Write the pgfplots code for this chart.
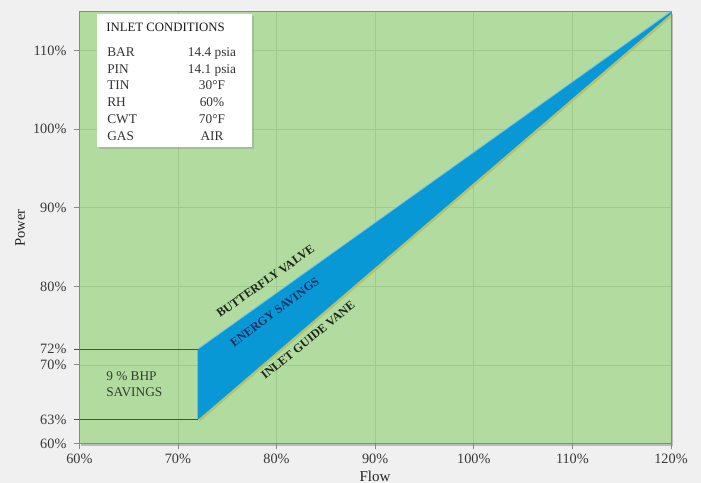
\documentclass[border=0pt]{standalone}
\usepackage{fontspec}
\setmainfont{Liberation Serif}
\usepackage{pgfplots}
\pgfplotsset{compat=1.18}
\usetikzlibrary{shadows}

\definecolor{pageGray}{RGB}{240,240,240}
\definecolor{plotGreen}{RGB}{178,219,159}
\definecolor{gridGreen}{RGB}{158,202,140}
\definecolor{bandBlue}{RGB}{8,152,214}
\definecolor{bandEdge}{RGB}{110,200,235}
\definecolor{bandShadow}{RGB}{180,192,104}
\definecolor{axisGray}{RGB}{135,135,135}
\definecolor{tickText}{RGB}{55,55,55}
\definecolor{noteDark}{RGB}{28,38,28}
\definecolor{noteNavy}{RGB}{20,48,98}
\definecolor{bhpText}{RGB}{50,62,50}

\begin{document}
\begin{tikzpicture}
% fond gris de la page
\fill[pageGray] (-59.5pt,-29.6pt) rectangle (466.3pt,332.6pt);

\begin{axis}[
    at={(0,0)}, anchor=south west,
    scale only axis,
    width=443.8pt, height=324pt,
    xmin=60, xmax=120, ymin=60, ymax=115,
    xtick={60,70,80,90,100,110,120},
    xticklabels={60\%,70\%,80\%,90\%,100\%,110\%,120\%},
    ytick={60,70,80,90,100,110},
    yticklabels={60\%,70\%,80\%,90\%,100\%,110\%},
    extra y ticks={63,72},
    extra y tick labels={63\%,72\%},
    extra y tick style={grid=none, major tick style={black!70, line width=0.7pt}},
    xtick pos=bottom, ytick pos=left,
    tick align=outside,
    major tick length=4pt,
    xmajorgrids, ymajorgrids,
    grid style={gridGreen, line width=0.5pt},
    axis line style={axisGray, line width=0.6pt},
    tick style={axisGray, line width=0.6pt},
    axis background/.style={fill=plotGreen,
        drop shadow={shadow xshift=1.6pt, shadow yshift=-1.6pt, fill=black, opacity=0.22}},
    /pgf/number format/assume math mode=true,
    tick label style={font=\fontsize{10.7}{12}\selectfont, text=tickText},
    yticklabel style={inner sep=0pt, xshift=-5.5pt},
    xticklabel style={inner sep=0pt, yshift=-4pt},
    xlabel={Flow},
    ylabel={Power},
    xlabel style={at={(axis description cs:0.4998,-0.087)}, anchor=base,
        font=\fontsize{11.3}{13}\selectfont, text=black!85},
    ylabel style={at={(axis description cs:-0.1002,0.4988)}, anchor=center,
        font=\fontsize{11}{13}\selectfont, text=black!85},
]

% bande bleue : économies d'énergie entre vanne papillon et aubes directrices
\addplot[fill=bandBlue, draw=none,
    drop shadow={shadow xshift=1.2pt, shadow yshift=-1.6pt, fill=bandShadow, opacity=0.9}]
    coordinates {(72,63) (72,72) (120,115) (120,114.7)} -- cycle;
\addplot[bandEdge, line width=0.6pt] coordinates {(72,72) (120,115)};

% niveaux 72 % et 63 % à 72 % de débit
\addplot[black!70, line width=0.7pt] coordinates {(60,72) (72,72)};
\addplot[black!70, line width=0.7pt] coordinates {(60,63) (72,63)};
\end{axis}

% annotations, placées en pixels de l'image de référence
\begin{scope}[x=0.75pt, y=-0.75pt, shift={(-59.475pt,332.625pt)}]
    \fill[white, drop shadow={shadow xshift=1.6pt, shadow yshift=-1.6pt, opacity=0.3}]
        (97,14) rectangle (252,147);
    \node[anchor=base west, inner sep=0pt, font=\fontsize{9.6}{11}\selectfont, text=black!90]
        at (106,31.4) {INLET CONDITIONS};
    \foreach \k/\v [count=\i from 0] in {BAR/14.4 psia, PIN/14.1 psia, TIN/30°F,
                                         RH/60\%, CWT/70°F, GAS/AIR} {
        \pgfmathsetmacro{\yy}{56.4+16.8*\i}
        \node[anchor=base west, inner sep=0pt, font=\fontsize{10}{11}\selectfont, text=black!80]
            at (107,\yy) {\k};
        \node[anchor=base, inner sep=0pt, font=\fontsize{10}{11}\selectfont, text=black!80]
            at (212,\yy) {\v};
    }

    \node[anchor=base west, inner sep=0pt, font=\fontsize{10}{11}\selectfont, text=bhpText]
        at (106,381) {9 \% BHP};
    \node[anchor=base west, inner sep=0pt, font=\fontsize{10}{11}\selectfont, text=bhpText]
        at (106,397) {SAVINGS};

    \node[anchor=base west, inner sep=0pt, rotate=35, text=noteDark,
        font=\bfseries\fontsize{9.1}{11}\selectfont] at (220,318) {BUTTERFLY VALVE};
    \node[anchor=base west, inner sep=0pt, rotate=37, text=noteNavy,
        font=\bfseries\fontsize{9.1}{11}\selectfont] at (234,348) {ENERGY SAVINGS};
    \node[anchor=base west, inner sep=0pt, rotate=39, text=noteDark,
        font=\bfseries\fontsize{9.1}{11}\selectfont] at (265,380) {INLET GUIDE VANE};
\end{scope}

\pgfresetboundingbox
\path[use as bounding box] (-59.5pt,-29.6pt) rectangle (466.3pt,332.6pt);
\end{tikzpicture}
\end{document}
